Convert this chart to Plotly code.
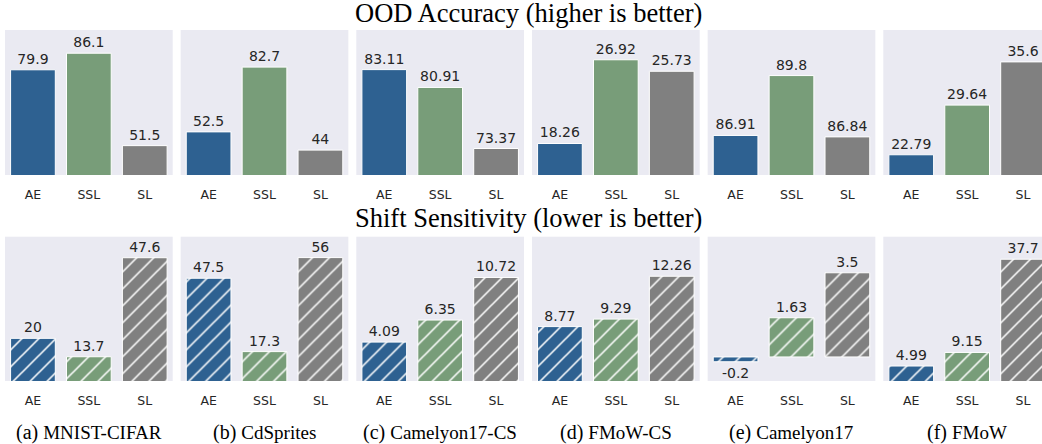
import plotly.graph_objects as go

# ---- data ----
models = ["AE", "SSL", "SL"]
letters = ["a", "b", "c", "d", "e", "f"]
datasets = ["MNIST-CIFAR", "CdSprites", "Camelyon17-CS", "FMoW-CS", "Camelyon17", "FMoW"]

ae_ood = [79.9, 52.5, 83.11, 18.26, 86.91, 22.79]
ssl_ood = [86.1, 82.7, 80.91, 26.92, 89.8, 29.64]
sl_ood = [51.5, 44, 73.37, 25.73, 86.84, 35.6]

ae_shift = [20, 47.5, 4.09, 8.77, -0.2, 4.99]
ssl_shift = [13.7, 17.3, 6.35, 9.29, 1.63, 9.15]
sl_shift = [47.6, 56, 10.72, 12.26, 3.5, 37.7]

row_titles = ["OOD Accuracy (higher is better)", "Shift Sensitivity (lower is better)"]

# ---- styling / layout ----
W, H = 1042, 444
colors = ["#2E6191", "#789D79", "#808080"]
bg = "#EAEAF2"
txt = "#262626"

ood_ranges = [[40.5, 94.8], [32.4, 100], [70.1, 88.0], [15, 30], [85, 92], [20, 40]]
shift_ranges = [[5.4, 54.8], [5.2, 64.6], [0.1, 14.9], [5, 15], [-1, 5], [0.4, 44.6]]

pitch, pw = 175.66, 167.7
lefts = [5 + pitch * i for i in range(6)]
row_px = [(30, 175), (236.7, 381)]

fig = go.Figure()
layout = dict(
    width=W, height=H, margin=dict(l=0, r=0, t=0, b=0),
    paper_bgcolor="white", plot_bgcolor=bg, showlegend=False,
    barmode="overlay",
)

ax = 0
for r, (a_vals, s_vals, l_vals, ranges) in enumerate(
    [(ae_ood, ssl_ood, sl_ood, ood_ranges), (ae_shift, ssl_shift, sl_shift, shift_ranges)]
):
    for c in range(6):
        ax += 1
        xn = "x" if ax == 1 else f"x{ax}"
        yn = "y" if ax == 1 else f"y{ax}"
        vals = [a_vals[c], s_vals[c], l_vals[c]]
        for k in range(3):
            marker = dict(color=colors[k], line=dict(color="white", width=1))
            if r == 1:
                marker["pattern"] = dict(
                    shape="/", fillmode="replace",
                    bgcolor=colors[k], fgcolor="white", fgopacity=1,
                    size=12, solidity=0.13,
                )
            fig.add_trace(go.Bar(
                x=[models[k]], y=[vals[k]], xaxis=xn, yaxis=yn, width=0.8,
                marker=marker, opacity=1,
                text=[f"{vals[k]:g}"], textposition="outside",
                textfont=dict(family="DejaVu Sans", size=14, color=txt),
                constraintext="none", cliponaxis=False, hoverinfo="skip",
            ))
        x0 = lefts[c] / W
        x1 = min(1.0, (lefts[c] + pw) / W)
        xr_end = -0.5 + 3 * (min(W, lefts[c] + pw) - lefts[c]) / pw
        t, b = row_px[r]
        suffix = "" if ax == 1 else str(ax)
        layout["xaxis" + suffix] = dict(
            domain=[x0, x1], anchor=yn, range=[-0.5, xr_end],
            type="category", categoryorder="array", categoryarray=models,
            showgrid=False, zeroline=False, showline=False,
            tickfont=dict(family="DejaVu Sans", size=12.5, color=txt),
            ticks="outside", ticklen=8, tickcolor="rgba(0,0,0,0)",
            fixedrange=True,
        )
        layout["yaxis" + suffix] = dict(
            domain=[1 - b / H, 1 - t / H], anchor=xn, range=ranges[c],
            showgrid=False, zeroline=False, showline=False, showticklabels=False,
            fixedrange=True,
        )

annotations = []
for r, (ttl, ypx) in enumerate(zip(row_titles, [13.5, 217.5])):
    annotations.append(dict(
        text=ttl, x=528.5 / W, y=1 - ypx / H, xref="paper", yref="paper",
        xanchor="center", yanchor="middle", showarrow=False,
        font=dict(family="Liberation Serif", size=26.5, color="black"),
    ))
for c in range(6):
    cx = (lefts[c] + pw / 2) / W
    annotations.append(dict(
        text=f"({letters[c]}) <span style='font-size:19px'>{datasets[c]}</span>",
        x=cx, y=1 - 432 / H, xref="paper", yref="paper",
        xanchor="center", yanchor="middle", showarrow=False,
        font=dict(family="Liberation Serif", size=20, color="black"),
    ))
layout["annotations"] = annotations

fig.update_layout(**layout)
fig.write_html(
    "out.html",
    config={"displayModeBar": False},
    post_script="document.body.style.margin='0';document.body.style.overflow='hidden';",
)
